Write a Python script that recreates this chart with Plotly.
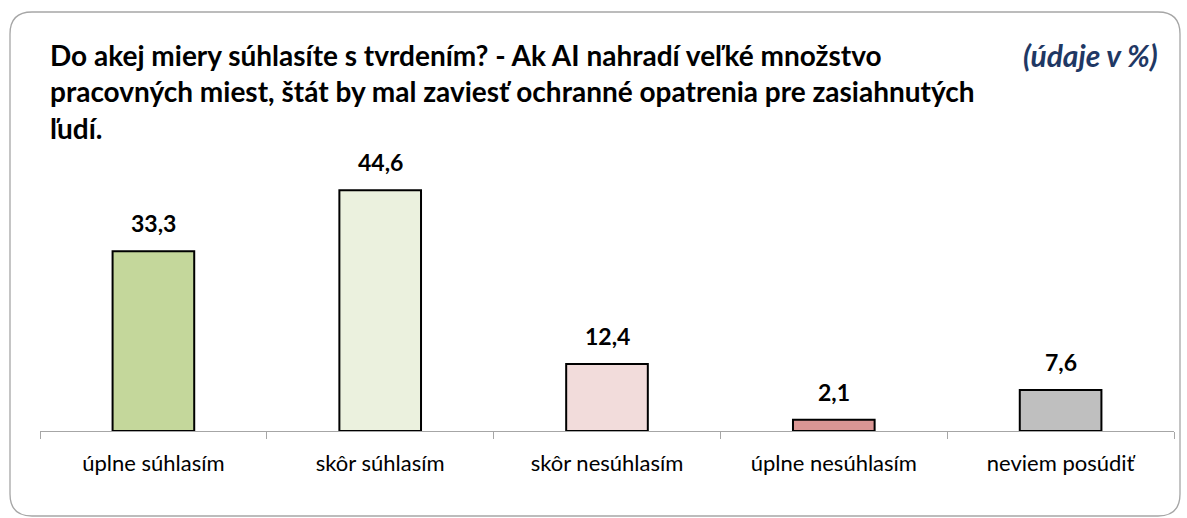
import plotly.graph_objects as go

categories = ["úplne súhlasím", "skôr súhlasím", "skôr nesúhlasím", "úplne nesúhlasím", "neviem posúdiť"]
values = [33.3, 44.6, 12.4, 2.1, 7.6]
value_labels = ["33,3", "44,6", "12,4", "2,1", "7,6"]
colors = ["#C4D79B", "#EBF1DE", "#F2DCDB", "#DA9694", "#BFBFBF"]

title_text = ("Do akej miery súhlasíte s tvrdením? - Ak AI nahradí veľké množstvo<br>"
              "pracovných miest, štát by mal zaviesť ochranné opatrenia pre zasiahnutých<br>"
              "ľudí.")
unit_text = "(údaje v %)"

W, H = 1187, 518
FONT = "Lato, 'Open Sans', sans-serif"

def px(x):
    return x / W

def py(y):
    return 1 - y / H

fig = go.Figure()
fig.add_trace(go.Bar(
    x=categories, y=values,
    marker=dict(color=colors, line=dict(color="#000000", width=2)),
    width=0.36,
    hoverinfo="skip",
))

for c, v, lab in zip(categories, values, value_labels):
    fig.add_annotation(x=c, y=v, text="<b>" + lab + "</b>", showarrow=False,
                       yanchor="bottom", yshift=12,
                       font=dict(family=FONT, size=23, color="#000000"))

# rounded frame
x0, y0, x1, y1, r = 10, 12, 1180, 516, 22
path = (f"M {px(x0 + r)} {py(y0)} L {px(x1 - r)} {py(y0)} "
        f"Q {px(x1)} {py(y0)} {px(x1)} {py(y0 + r)} "
        f"L {px(x1)} {py(y1 - r)} Q {px(x1)} {py(y1)} {px(x1 - r)} {py(y1)} "
        f"L {px(x0 + r)} {py(y1)} Q {px(x0)} {py(y1)} {px(x0)} {py(y1 - r)} "
        f"L {px(x0)} {py(y0 + r)} Q {px(x0)} {py(y0)} {px(x0 + r)} {py(y0)} Z")
fig.add_shape(type="path", path=path, xref="paper", yref="paper",
              line=dict(color="#A6A6A6", width=1.3), layer="below")

fig.add_annotation(xref="paper", yref="paper", x=px(48), y=py(36), xanchor="left", yanchor="top",
                   text="<b>" + title_text + "</b>", showarrow=False, align="left",
                   font=dict(family=FONT, size=28, color="#000000"))
fig.add_annotation(xref="paper", yref="paper", x=px(1160), y=py(35), xanchor="right", yanchor="top",
                   text="<b><i>" + unit_text + "</i></b>", showarrow=False,
                   font=dict(family=FONT, size=30, color="#1F3864"))

fig.update_layout(
    width=W, height=H,
    margin=dict(l=0, r=0, t=0, b=0),
    paper_bgcolor="white", plot_bgcolor="white",
    showlegend=False,
    xaxis=dict(domain=[px(40), px(1174)], showline=True, linecolor="#A6A6A6", linewidth=1.3,
               ticks="outside", tickson="boundaries", ticklen=7, tickcolor="#A6A6A6",
               tickfont=dict(family=FONT, size=22, color="#000000"),
               ticklabelstandoff=12, showgrid=False, zeroline=False),
    yaxis=dict(domain=[py(431), py(161)], range=[0, 50], visible=False, showgrid=False),
)

fig.write_html("out.html", config={"displayModeBar": False},
               post_script="document.body.style.margin='0';")
